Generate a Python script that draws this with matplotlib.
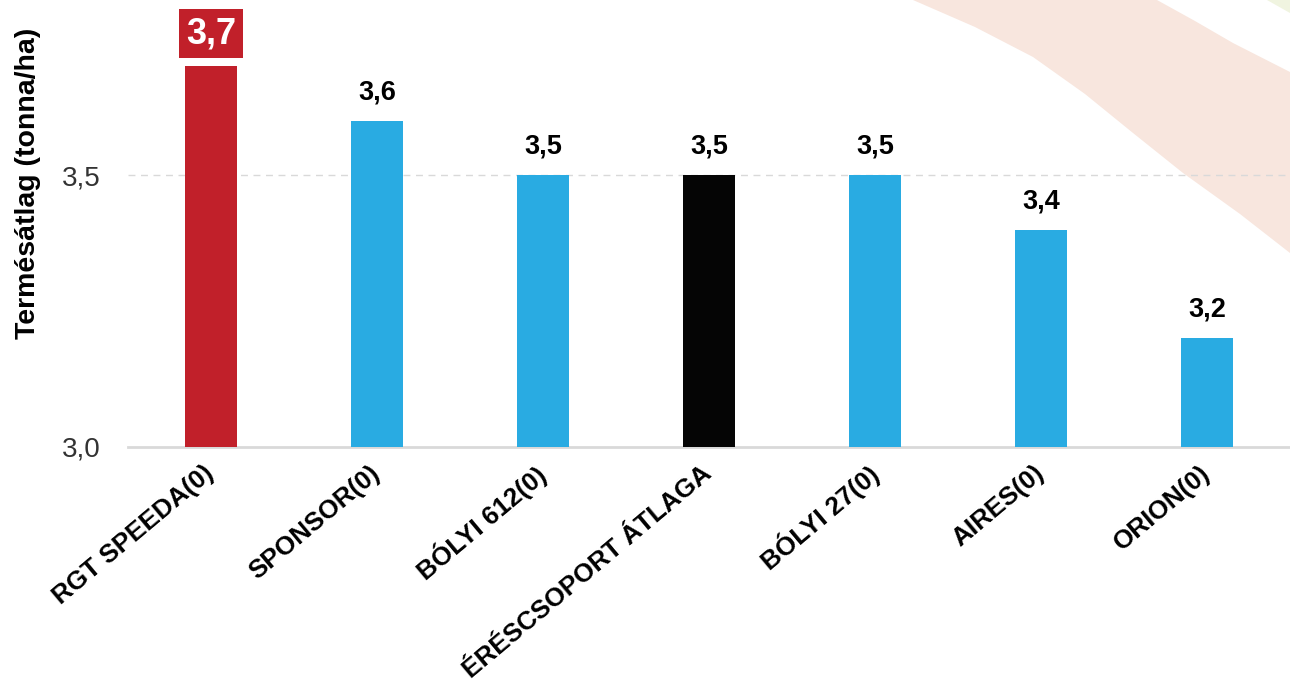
import matplotlib
matplotlib.use("Agg")
import matplotlib.pyplot as plt
from matplotlib.patches import Polygon

plt.rcParams['font.family'] = ['Liberation Sans', 'DejaVu Sans']

categories = ["RGT SPEEDA(0)", "SPONSOR(0)", "BÓLYI 612(0)", "ÉRÉSCSOPORT ÁTLAGA",
              "BÓLYI 27(0)", "AIRES(0)", "ORION(0)"]
values = [3.7, 3.6, 3.5, 3.5, 3.5, 3.4, 3.2]
value_labels = ["3,7", "3,6", "3,5", "3,5", "3,5", "3,4", "3,2"]
bar_colors = ["#C1202A", "#29ABE2", "#29ABE2", "#050505", "#29ABE2", "#29ABE2", "#29ABE2"]
yticks = [3.0, 3.5]
ytick_labels = ["3,0", "3,5"]
ylabel = "Termésátlag (tonna/ha)"

W, H = 1290, 690
fig = plt.figure(figsize=(W / 100, H / 100), dpi=100)
fig.patch.set_facecolor("white")

def px(pts):
    return [(x / W, 1 - y / H) for x, y in pts]

# decorative background stripe
stripe = [(913, 0), (975, 27), (1033, 57), (1085, 94), (1133, 133), (1183, 173),
          (1240, 214), (1290, 253), (1290, 72), (1233, 43), (1195, 21), (1157, 0)]
fig.patches.append(Polygon(px(stripe), closed=True, transform=fig.transFigure,
                           facecolor="#F8E6DE", edgecolor="none", zorder=-5))
green = [(1267, 0), (1290, 0), (1290, 13)]
fig.patches.append(Polygon(px(green), closed=True, transform=fig.transFigure,
                           facecolor="#F0F4E0", edgecolor="none", zorder=-5))

ax = fig.add_axes([128 / W, 1 - 447 / H, 1 - 128 / W, (447 - 12) / H])
ax.set_facecolor("none")
ax.set_zorder(1)

x = list(range(len(categories)))
ax.bar(x, [v - 3.0 for v in values], bottom=3.0, width=0.31, color=bar_colors, zorder=3)

ax.set_xlim(-0.5, len(categories) - 0.5)
ax.set_ylim(3.0, 3.8)
ax.set_yticks(yticks)
ax.set_yticklabels(ytick_labels, fontsize=20, color="#333333")
ax.tick_params(axis="y", length=0, pad=20)
ax.tick_params(axis="x", length=0, pad=17)
ax.set_xticks(x)
ax.set_xticklabels(categories, rotation=40, ha="right", va="center",
                   rotation_mode="anchor", fontsize=18.8, fontweight="bold")

ax.axhline(3.5, color="#D9D9D9", lw=1.0, ls=(0, (5, 4)), zorder=1)
for s in ["top", "right", "left"]:
    ax.spines[s].set_visible(False)
ax.spines["bottom"].set_color("#D9D9D9")
ax.spines["bottom"].set_linewidth(2)

for i, (v, t) in enumerate(zip(values, value_labels)):
    if i == 0:
        ax.annotate(t, (i, v), xytext=(0, 11), textcoords="offset points",
                    ha="center", va="bottom", fontsize=26, fontweight="bold", color="white",
                    bbox=dict(boxstyle="square,pad=0.2", facecolor="#C1202A", edgecolor="none"),
                    zorder=4)
    else:
        ax.annotate(t, (i, v), xytext=(0, 11), textcoords="offset points",
                    ha="center", va="bottom", fontsize=19.5, fontweight="bold", color="black",
                    zorder=4)

fig.text(28 / W, 1 - 183 / H, ylabel, rotation=90, ha="center", va="center",
         fontsize=20.5, fontweight="bold")

fig.savefig("out.png", dpi=100)
